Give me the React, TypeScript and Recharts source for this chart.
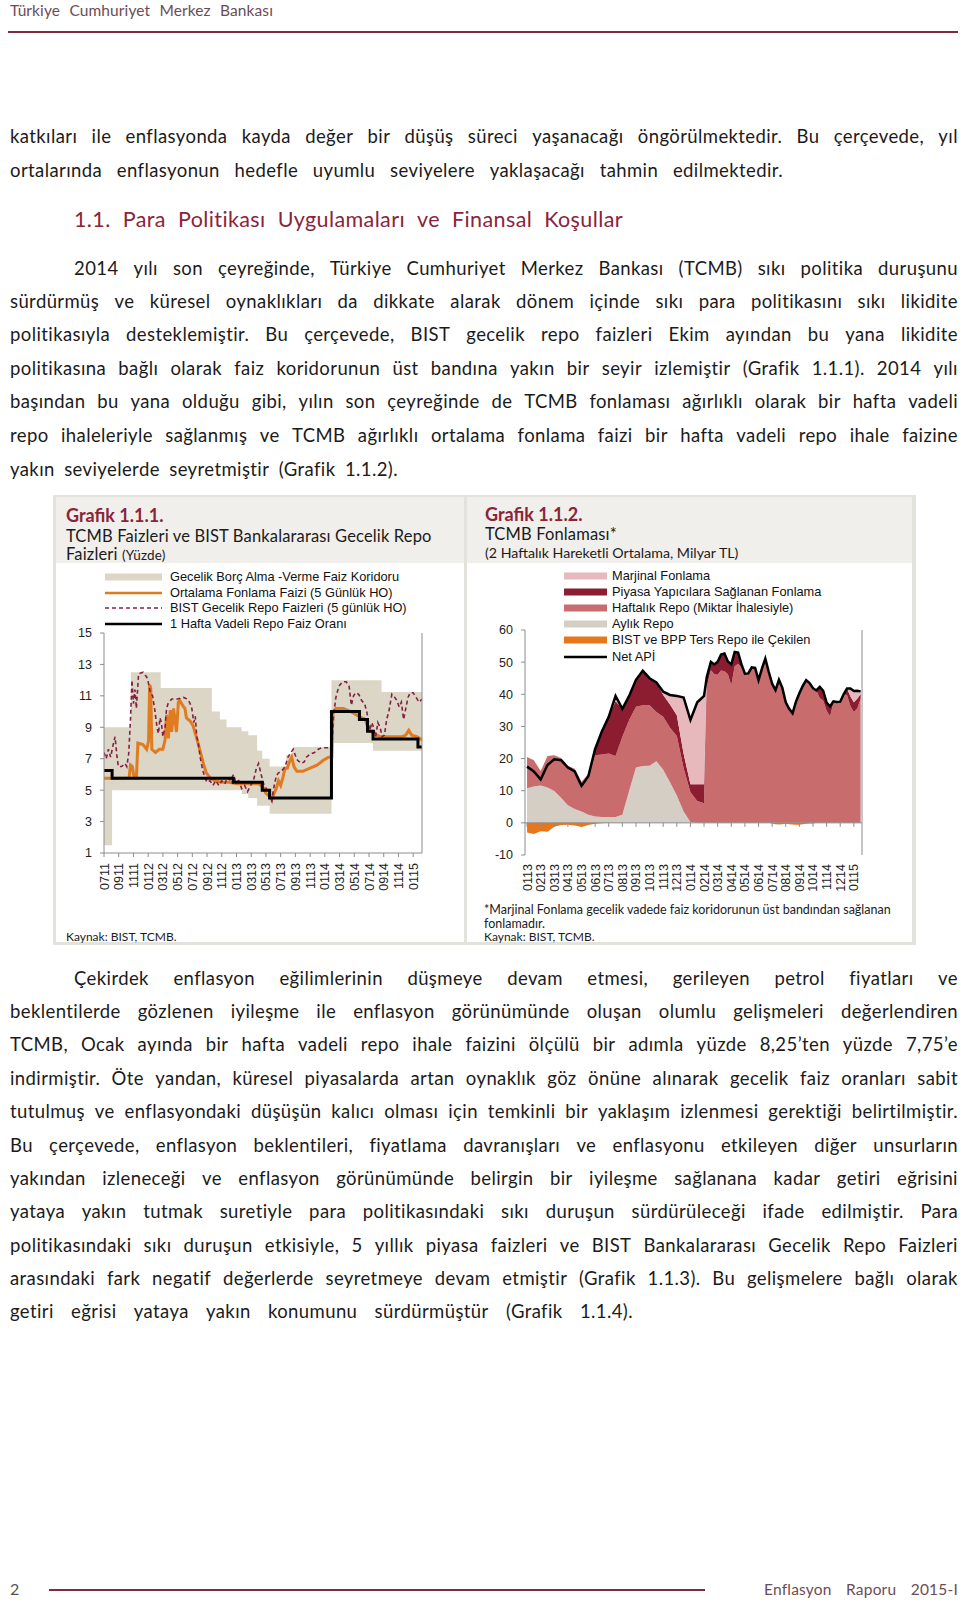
import React from "react";
import { Area, ComposedChart, Line, ReferenceLine, XAxis, YAxis } from "recharts";

const BODY = "Lato, 'Open Sans', sans-serif";
const SANS = "'Liberation Sans', Arial, sans-serif";
const MAROON = "#8b2439";
const AXIS = "#8c8c8c";

// ---- Grafik 1.1.1 : months counted from 07/2011 ----
const c1TickLabels = [
  "0711", "0911", "1111", "0112", "0312", "0512", "0712", "0912", "1112", "0113", "0313",
  "0513", "0713", "0913", "1113", "0114", "0314", "0514", "0714", "0914", "1114", "0115",
];
const c1YTicks = [1, 3, 5, 7, 9, 11, 13, 15];

// corridor (overnight borrowing / lending), step changes
const corridorT = [0, 1.1, 3.65, 7.7, 14.65, 15.75, 16.65, 18.7, 19.6, 20.8, 21.5, 22.5, 24.75, 25.65, 30.9, 36.55, 37.7, 43.2];
const corridorLow = [1.5, 5, 5, 5, 5, 5, 5, 4.75, 4.5, 4, 4, 3.5, 3.5, 3.5, 8, 7.5, 7.5, 7.5];
const corridorHigh = [9, 9, 12.5, 11.5, 10, 9.5, 9, 8.75, 8.5, 7.5, 7, 6.5, 7.25, 7.75, 12, 12, 11.25, 11.25];

// 1 hafta vadeli repo
const policyT = [0, 1.1, 17.55, 21.5, 22.5, 30.9, 34.7, 35.8, 36.55, 42.65, 43.2];
const policyRate = [6.25, 5.75, 5.5, 5.0, 4.5, 10, 9.5, 8.75, 8.25, 7.75, 7.75];

// BIST gecelik repo (5 günlük HO)
const bistRepo: [number, number][] = [
  [0, 7.4], [0.3, 7.0], [0.6, 7.6], [0.9, 7.1], [1.2, 7.8], [1.5, 8.4], [1.75, 7.2], [1.95, 6.5],
  [2.4, 6.5], [2.85, 6.7], [3.1, 6.5], [3.35, 7.3], [3.6, 9.5], [3.8, 12.0], [4.0, 10.5], [4.2, 11.4],
  [4.4, 10.2], [4.7, 12.4], [5.3, 12.5], [5.8, 12.2], [6.0, 11.9], [6.3, 11.2], [6.6, 11.0], [6.9, 10.1],
  [7.2, 9.0], [7.4, 8.6], [7.6, 9.6], [7.8, 9.3], [8.0, 8.4], [8.3, 9.0], [8.5, 10.2], [8.7, 10.5],
  [9.2, 10.8], [10.0, 10.8], [10.8, 10.9], [11.3, 10.8], [11.6, 10.6], [11.9, 10.3], [12.2, 9.3],
  [12.4, 9.7], [12.6, 8.4], [12.8, 8.0], [13.1, 7.0], [13.4, 6.3], [13.7, 5.8], [14.0, 5.5], [14.4, 5.6],
  [14.8, 5.3], [15.2, 5.6], [15.6, 5.3], [16.0, 5.6], [16.4, 5.4], [16.8, 5.8], [17.2, 5.6], [17.6, 6.0],
  [17.9, 5.5], [18.3, 5.6], [18.7, 5.1], [19.1, 5.3], [19.5, 4.9], [19.8, 5.2], [20.3, 5.6], [20.7, 6.4],
  [21.0, 6.7], [21.3, 6.1], [21.6, 5.5], [21.9, 5.2], [22.2, 5.0], [22.5, 4.6], [22.8, 4.3], [23.0, 5.0],
  [23.4, 5.9], [23.7, 6.1], [24.1, 6.2], [24.6, 6.5], [25.0, 7.1], [25.4, 7.4], [25.7, 7.6], [26.0, 7.2],
  [26.3, 6.9], [26.8, 6.7], [27.2, 6.8], [27.5, 7.1], [28.0, 7.3], [28.6, 7.4], [29.1, 7.6], [29.6, 7.7],
  [30.3, 7.7], [30.95, 7.7], [31.2, 9.8], [31.5, 10.9], [31.9, 11.6], [32.4, 11.9], [32.9, 11.9],
  [33.3, 11.6], [33.6, 10.4], [33.9, 11.0], [34.2, 11.2], [34.6, 11.1], [35.0, 10.7], [35.4, 10.5],
  [35.7, 10.0], [36.1, 8.8], [36.4, 9.3], [36.6, 9.0], [36.9, 8.4], [37.2, 9.3], [37.5, 9.0], [37.8, 8.4],
  [38.1, 8.5], [38.4, 9.5], [38.7, 10.0], [39.1, 11.1], [39.5, 10.9], [39.8, 10.7], [40.1, 10.3],
  [40.4, 10.6], [40.7, 9.5], [41.0, 10.2], [41.3, 10.9], [41.6, 11.2], [42.0, 11.2], [42.4, 10.9],
  [42.8, 10.6], [43.2, 10.8],
];

// Ortalama fonlama faizi (5 günlük HO)
const fundingRate: [number, number][] = [
  [0, 5.75], [3.4, 5.75], [3.6, 6.6], [3.85, 6.5], [4.1, 5.75], [4.4, 5.75], [4.6, 8.0], [5.3, 7.9],
  [5.8, 7.6], [6.05, 8.1], [6.2, 11.7], [6.35, 11.5], [6.5, 7.6], [7.0, 7.4], [7.5, 7.6], [8.0, 7.6],
  [8.3, 8.2], [8.5, 9.8], [8.75, 8.3], [9.0, 10.1], [9.2, 8.7], [9.45, 10.2], [9.85, 8.7], [10.1, 10.6],
  [10.3, 10.7], [10.8, 10.3], [11.0, 10.2], [11.2, 9.6], [11.7, 9.4], [12.1, 9.1], [12.6, 8.3],
  [13.0, 7.6], [13.5, 6.7], [13.9, 6.1], [14.4, 5.8], [15.0, 5.6], [16.0, 5.5], [17.0, 5.5], [18.0, 5.4],
  [19.0, 5.4], [20.0, 5.4], [21.0, 5.4], [21.6, 5.2], [22.0, 4.8], [22.5, 4.6], [22.8, 4.4], [23.1, 4.8],
  [23.4, 5.1], [23.7, 5.6], [24.0, 5.3], [24.3, 5.8], [24.6, 6.4], [24.9, 6.4], [25.2, 6.8], [25.5, 7.1],
  [25.8, 6.5], [26.2, 6.2], [27.0, 6.2], [28.0, 6.4], [29.0, 6.6], [29.8, 6.9], [30.5, 7.1], [30.95, 7.1],
  [31.1, 10.0], [31.5, 10.2], [32.5, 10.2], [33.5, 10.0], [34.6, 9.7], [35.5, 9.5], [35.9, 8.9],
  [36.6, 8.6], [37.5, 8.4], [38.5, 8.4], [39.5, 8.4], [40.5, 8.4], [41.0, 8.5], [41.4, 8.8], [41.8, 8.5],
  [42.5, 8.4], [43.2, 8.2],
];

// ---- Grafik 1.1.2 : months counted from 01/2013 ----
const c2TickLabels = [
  "0113", "0213", "0313", "0413", "0513", "0613", "0713", "0813", "0913", "1013", "1113", "1213",
  "0114", "0214", "0314", "0414", "0514", "0614", "0714", "0814", "0914", "1014", "1114", "1214", "0115",
];
const c2YTicks = [-10, 0, 10, 20, 30, 40, 50, 60];
const c2Months = [
  0, 0.5, 1, 1.5, 2, 2.5, 3, 3.5, 4, 4.5, 5, 5.5, 6, 6.5, 7, 7.5, 8, 8.5, 9, 9.5, 10, 10.5, 11, 11.5,
  12, 12.5, 13, 13.2,
  13.5, 13.75, 14, 14.25, 14.5, 14.75, 15, 15.25, 15.5, 15.75, 16, 16.25, 16.5, 16.75, 17, 17.25, 17.5,
  17.75, 18, 18.25, 18.5, 18.75, 19, 19.25, 19.5, 19.75, 20, 20.25, 20.5, 20.75, 21, 21.25, 21.5, 21.75,
  22, 22.25, 22.5, 22.75, 23, 23.25, 23.5, 23.75, 24, 24.25, 24.5,
];
const aylikRepo = [
  10.8, 11.3, 11.6, 11.0, 9.9, 7.8, 5.5, 4.3, 3.5, 2.5, 2.0, 1.8, 1.8, 1.8, 2.5, 10.0, 17.2, 17.7, 17.8,
  19.2, 16.5, 12.6, 8.5, 3.5, 0.3, 0, 0, 0,
  0, 0, 0, 0, 0, 0, 0, 0, 0, 0, 0, 0, 0, 0, 0, 0, 0, 0, 0, 0, 0, 0, 0, 0, 0, 0, 0, 0, 0, 0, 0, 0, 0, 0,
  0, 0, 0, 0, 0, 0, 0, 0, 0, 0, 0,
];
const haftalikRepo = [
  9.7, 8.2, 4.5, 9.8, 11.1, 12.4, 12.3, 12.5, 9.3, 12.7, 19.0, 19.5, 19.8, 19.0, 24.3, 22.0, 18.9, 18.9,
  18.8, 15.3, 16.5, 17.0, 18.5, 13.5, 9.2, 6.8, 6.1, 42.5,
  47.5, 46.3, 46.1, 47.4, 47.2, 46.2, 42.8, 48.7, 49.5, 48.3, 46.4, 46.5, 48.4, 48.2, 44.4, 48.0, 51.1,
  47.0, 43.5, 41.7, 45.0, 42.4, 37.8, 35.9, 34.6, 38.3, 40.9, 43.0, 44.7, 43.7, 42.1, 41.2, 38.8, 38.1,
  34.9, 33.2, 37.3, 37.6, 37.7, 40.0, 39.8, 36.3, 34.5, 35.6, 38.6,
];
const piyasaYapici = [
  0, 0, 0, 0, 0, 0, 0, 0, 0, 0, 2.3, 7.3, 11.4, 17.0, 8.7, 7.5, 8.4, 10.7, 8.4, 9.2, 6.8, 7.2, 6.5, 4.5,
  2.5, 5.2, 5.9, 2.9,
  2.6, 3.0, 4.0, 5.0, 5.5, 4.0, 6.5, 4.5, 3.5, 1.0, 0, 0, 0, 0, 0, 0, 0, 0, 0, 0, 0, 0, 0, 0, 0, 0, 0, 0,
  0, 0, 0, 0, 3.5, 3.0, 2.5, 3.0, 0.5, 0, 0, 0, 2.0, 3.0, 3.0, 3.0, 1.5,
];
const marjinal = [
  0, 0, 0, 0, 0, 0, 0, 0, 0, 0, 0, 0, 0, 1.7, 0, 0, 0, 0, 0, 0, 1.0, 3.0, 6.0, 17.5, 20.0, 25.5, 27.5, 0,
  0, 0, 0, 0, 0, 0, 0, 0, 0, 0, 0, 0, 0, 0, 0, 0, 0, 0, 0, 0, 0, 0, 0, 0, 0, 0, 0, 0, 0, 0, 0, 0, 0, 0,
  0, 0, 0, 0, 0, 0, 0, 2.5, 3.5, 2.5, 0.8,
];
const bistTersRepo = [
  -3.0, -3.5, -2.6, -2.8, -1.2, -0.7, -0.6, -0.8, -1.3, -0.7, -0.3, -0.1, 0, 0, 0, 0, 0, 0, 0, 0, 0, 0,
  0, 0, 0, 0, 0, 0,
  0, 0, 0, 0, 0, 0, 0, 0, 0, 0, 0, 0, 0, 0, 0, 0, 0, 0, -0.2, -0.4, -0.5, -0.4, -0.3, -0.4, -0.5, -0.6,
  -0.6, -0.4, -0.3, -0.2, -0.2, 0, 0, 0, 0, 0, 0, 0, 0, 0, 0, 0, 0, 0, 0,
];
const netApi = [
  17.5, 16.0, 13.5, 18.0, 19.8, 19.5, 17.2, 16.0, 11.5, 14.5, 23.0, 28.5, 33.0, 39.5, 35.5, 39.5, 44.5,
  47.3, 45.0, 43.7, 40.8, 39.8, 39.5, 39.0, 32.0, 37.5, 39.5, 45.4,
  50.1, 49.3, 50.1, 52.4, 52.7, 50.2, 49.3, 53.2, 53.0, 49.3, 46.4, 46.5, 48.4, 48.2, 44.4, 48.0, 51.1,
  47.0, 43.3, 41.3, 44.5, 42.0, 37.5, 35.5, 34.1, 37.7, 40.3, 42.6, 44.4, 43.5, 41.9, 41.2, 42.3, 41.1,
  37.4, 36.2, 37.8, 37.6, 37.7, 40.0, 41.8, 41.8, 41.0, 41.1, 40.9,
];

// one table for chart 1, rows keyed by month; series missing a value get connectNulls
function mergeRows(parts: Array<[string, Array<[number, unknown]>]>) {
  const rows = new Map<number, Record<string, unknown>>();
  parts.forEach(([key, pts]) =>
    pts.forEach(([t, v]) => {
      const row = rows.get(t) ?? { t };
      row[key] = v;
      rows.set(t, row);
    })
  );
  return Array.from(rows.values()).sort((a, b) => (a.t as number) - (b.t as number));
}

const chart1Data = mergeRows([
  ["band", corridorT.map((t, i) => [t, [corridorLow[i], corridorHigh[i]]] as [number, unknown])],
  ["policy", policyT.map((t, i) => [t, policyRate[i]] as [number, unknown])],
  ["bist", bistRepo],
  ["fund", fundingRate],
]);

const chart2Data = c2Months.map((t, i) => ({
  t,
  aylik: aylikRepo[i],
  haftalik: haftalikRepo[i],
  piyasa: piyasaYapici[i],
  marjinal: marjinal[i],
  ters: bistTersRepo[i],
  net: netApi[i],
}));

const yTick = { fontSize: 12.5, fill: "#222", fontFamily: SANS };

function MonthTick(props: any) {
  const { x, y, payload, labels, step, zeroOffset } = props;
  const label = labels[Math.round(payload.value / step)];
  return (
    <g transform={`translate(${x},${y})`}>
      {zeroOffset != null && (
        <line x1={0} x2={0} y1={-zeroOffset} y2={-zeroOffset + 4} stroke={AXIS} />
      )}
      <text transform="rotate(-90)" x={-3} y={4.5} textAnchor="end" fontSize={12.5} fill="#222" fontFamily={SANS}>
        {label}
      </text>
    </g>
  );
}

function Chart1() {
  return (
    <ComposedChart width={400} height={310} data={chart1Data} margin={{ top: 33, right: 0, left: 0, bottom: 12 }}>
      <XAxis
        dataKey="t"
        type="number"
        domain={[0, 43.2]}
        allowDataOverflow
        ticks={c1TickLabels.map((_, i) => i * 2)}
        interval={0}
        height={45}
        tickSize={4}
        tickMargin={3}
        axisLine={{ stroke: AXIS }}
        tickLine={{ stroke: AXIS }}
        tick={(p: any) => <MonthTick {...p} labels={c1TickLabels} step={2} />}
      />
      <YAxis yAxisId="l" domain={[1, 15]} ticks={c1YTicks} interval={0} width={44} tickSize={4} tickMargin={8}
        axisLine={{ stroke: AXIS }} tickLine={{ stroke: AXIS }} tick={yTick} />
      <YAxis yAxisId="r" orientation="right" domain={[1, 15]} ticks={c1YTicks} interval={0} width={38} tickSize={4} tickMargin={6}
        axisLine={{ stroke: AXIS }} tickLine={{ stroke: AXIS }} tick={yTick} />
      <Area yAxisId="l" dataKey="band" type="stepAfter" fill="#dcd6c6" fillOpacity={1} stroke="none"
        connectNulls isAnimationActive={false} />
      <Line yAxisId="l" dataKey="fund" type="linear" stroke="#e07b20" strokeWidth={3} dot={false}
        connectNulls isAnimationActive={false} />
      <Line yAxisId="l" dataKey="bist" type="linear" stroke="#842042" strokeWidth={1.6} strokeDasharray="4 3"
        dot={false} connectNulls isAnimationActive={false} />
      <Line yAxisId="l" dataKey="policy" type="stepAfter" stroke="#000" strokeWidth={3} dot={false}
        connectNulls isAnimationActive={false} />
    </ComposedChart>
  );
}

function Chart2() {
  return (
    <ComposedChart width={420} height={312} data={chart2Data} margin={{ top: 30, right: 0, left: 0, bottom: 12 }}>
      <XAxis
        dataKey="t"
        type="number"
        domain={[-0.15, 24.6]}
        allowDataOverflow
        ticks={c2TickLabels.map((_, i) => i)}
        interval={0}
        height={45}
        tickSize={0}
        tickMargin={6}
        axisLine={false}
        tickLine={false}
        tick={(p: any) => <MonthTick {...p} labels={c2TickLabels} step={1} zeroOffset={6 + 225 * (10 / 70)} />}
      />
      <YAxis yAxisId="l" domain={[-10, 60]} ticks={c2YTicks} interval={0} width={45} tickSize={4} tickMargin={8}
        axisLine={{ stroke: AXIS }} tickLine={{ stroke: AXIS }} tick={yTick} />
      <YAxis yAxisId="r" orientation="right" domain={[-10, 60]} ticks={c2YTicks} interval={0} width={38} tickSize={4} tickMargin={6}
        axisLine={{ stroke: AXIS }} tickLine={{ stroke: AXIS }} tick={yTick} />
      <Area yAxisId="l" dataKey="aylik" stackId="f" type="linear" fill="#d5cec4" fillOpacity={1} stroke="none" isAnimationActive={false} />
      <Area yAxisId="l" dataKey="haftalik" stackId="f" type="linear" fill="#c96c6e" fillOpacity={1} stroke="none" isAnimationActive={false} />
      <Area yAxisId="l" dataKey="piyasa" stackId="f" type="linear" fill="#8c1c30" fillOpacity={1} stroke="none" isAnimationActive={false} />
      <Area yAxisId="l" dataKey="marjinal" stackId="f" type="linear" fill="#e7b9bc" fillOpacity={1} stroke="none" isAnimationActive={false} />
      <Area yAxisId="l" dataKey="ters" type="linear" baseValue={0} fill="#e8771c" fillOpacity={1} stroke="none" isAnimationActive={false} />
      <ReferenceLine yAxisId="l" y={0} stroke={AXIS} />
      <Line yAxisId="l" dataKey="net" type="linear" stroke="#000" strokeWidth={2.5} dot={false} isAnimationActive={false} />
    </ComposedChart>
  );
}

// ---- page text ----
const PAGE_LINES = [
  { x: 10, y: 136, w: 948, t: "katkıları ile enflasyonda kayda değer bir düşüş süreci yaşanacağı öngörülmektedir. Bu çerçevede, yıl" },
  { x: 10, y: 169.5, w: 773, t: "ortalarında enflasyonun hedefle uyumlu seviyelere yaklaşacağı tahmin edilmektedir." },
  { x: 74, y: 267.5, w: 884, t: "2014 yılı son çeyreğinde, Türkiye Cumhuriyet Merkez Bankası (TCMB) sıkı politika duruşunu" },
  { x: 10, y: 301, w: 948, t: "sürdürmüş ve küresel oynaklıkları da dikkate alarak dönem içinde sıkı para politikasını sıkı likidite" },
  { x: 10, y: 334, w: 948, t: "politikasıyla desteklemiştir. Bu çerçevede, BIST gecelik repo faizleri Ekim ayından bu yana likidite" },
  { x: 10, y: 367.5, w: 948, t: "politikasına bağlı olarak faiz koridorunun üst bandına yakın bir seyir izlemiştir (Grafik 1.1.1). 2014 yılı" },
  { x: 10, y: 401, w: 948, t: "başından bu yana olduğu gibi, yılın son çeyreğinde de TCMB fonlaması ağırlıklı olarak bir hafta vadeli" },
  { x: 10, y: 435, w: 948, t: "repo ihaleleriyle sağlanmış ve TCMB ağırlıklı ortalama fonlama faizi bir hafta vadeli repo ihale faizine" },
  { x: 10, y: 469, w: 388, t: "yakın seviyelerde seyretmiştir (Grafik 1.1.2)." },
  { x: 74, y: 977.5, w: 884, t: "Çekirdek enflasyon eğilimlerinin düşmeye devam etmesi, gerileyen petrol fiyatları ve" },
  { x: 10, y: 1011, w: 948, t: "beklentilerde gözlenen iyileşme ile enflasyon görünümünde oluşan olumlu gelişmeleri değerlendiren" },
  { x: 10, y: 1044, w: 948, t: "TCMB, Ocak ayında bir hafta vadeli repo ihale faizini ölçülü bir adımla yüzde 8,25’ten yüzde 7,75’e" },
  { x: 10, y: 1077.5, w: 948, t: "indirmiştir. Öte yandan, küresel piyasalarda artan oynaklık göz önüne alınarak gecelik faiz oranları sabit" },
  { x: 10, y: 1111, w: 948, t: "tutulmuş ve enflasyondaki düşüşün kalıcı olması için temkinli bir yaklaşım izlenmesi gerektiği belirtilmiştir." },
  { x: 10, y: 1145, w: 948, t: "Bu çerçevede, enflasyon beklentileri, fiyatlama davranışları ve enflasyonu etkileyen diğer unsurların" },
  { x: 10, y: 1177.5, w: 948, t: "yakından izleneceği ve enflasyon görünümünde belirgin bir iyileşme sağlanana kadar getiri eğrisini" },
  { x: 10, y: 1211, w: 948, t: "yataya yakın tutmak suretiyle para politikasındaki sıkı duruşun sürdürüleceği ifade edilmiştir. Para" },
  { x: 10, y: 1245, w: 948, t: "politikasındaki sıkı duruşun etkisiyle, 5 yıllık piyasa faizleri ve BIST Bankalararası Gecelik Repo Faizleri" },
  { x: 10, y: 1277.5, w: 948, t: "arasındaki fark negatif değerlerde seyretmeye devam etmiştir (Grafik 1.1.3). Bu gelişmelere bağlı olarak" },
  { x: 10, y: 1311, w: 623, t: "getiri eğrisi yataya yakın konumunu sürdürmüştür (Grafik 1.1.4)." },
];

function JustLine({ x, y, w, t, size = 18.5, spacing = 0.4, color = "#1b1b1b" }: { x: number; y: number; w: number; t: string; size?: number; spacing?: number; color?: string }) {
  return (
    <div style={{ position: "absolute", left: x, top: y - 13, width: w, height: 26, lineHeight: "26px", fontSize: size, letterSpacing: spacing, color, display: "flex", justifyContent: "space-between", whiteSpace: "nowrap" }}>
      {t.split(" ").filter(Boolean).map((word, i) => <span key={i}>{word}</span>)}
    </div>
  );
}

function Label({ x, y, size, color = "#1b1b1b", bold = false, font = BODY, spacing = 0, children }: { x: number; y: number; size: number; color?: string; bold?: boolean; font?: string; spacing?: number; children: React.ReactNode }) {
  return (
    <div style={{ position: "absolute", left: x, top: y - size * 0.7, lineHeight: `${size * 1.4}px`, fontSize: size, color, fontWeight: bold ? 700 : 400, fontFamily: font, letterSpacing: spacing, whiteSpace: "nowrap" }}>
      {children}
    </div>
  );
}

function LegendItem({ x, y, w, textX, kind, color, label }: { x: number; y: number; w: number; textX: number; kind: string; color: string; label: string }) {
  return (
    <>
      <svg style={{ position: "absolute", left: x, top: y - 5 }} width={w} height={10}>
        {kind === "bar" && <rect x={0} y={1.5} width={w} height={7} fill={color} />}
        {kind === "line" && <line x1={0} x2={w} y1={5} y2={5} stroke={color} strokeWidth={2.5} />}
        {kind === "dash" && <line x1={0} x2={w} y1={5} y2={5} stroke={color} strokeWidth={1.5} strokeDasharray="4 3" />}
      </svg>
      <Label x={textX} y={y} size={12.8} font={SANS} color="#111">{label}</Label>
    </>
  );
}

export default function App() {
  return (
    <div style={{ position: "absolute", left: 0, top: 0, width: 960, height: 1602, background: "#fff", overflow: "hidden", fontFamily: BODY, color: "#1b1b1b" }}>
      {/* running header */}
      <JustLine x={10} y={10} w={263} size={15.5} spacing={0.1} color="#6d4c55" t="Türkiye Cumhuriyet Merkez Bankası" />
      <div style={{ position: "absolute", left: 8, top: 31, width: 950, height: 2, background: "#7b2d3d" }} />

      {PAGE_LINES.slice(0, 2).map((l, i) => <JustLine key={`a${i}`} {...l} />)}
      <JustLine x={74} y={218.5} w={549} size={21.5} spacing={0.4} color={MAROON} t="1.1. Para Politikası Uygulamaları ve Finansal Koşullar" />
      {PAGE_LINES.slice(2).map((l, i) => <JustLine key={`b${i}`} {...l} />)}

      {/* chart frame */}
      <div style={{ position: "absolute", left: 53, top: 495, width: 863, height: 450, background: "#e4e2dd" }} />
      <div style={{ position: "absolute", left: 56, top: 497, width: 408, height: 445, background: "#fff" }} />
      <div style={{ position: "absolute", left: 467, top: 497, width: 445, height: 445, background: "#fff" }} />
      <div style={{ position: "absolute", left: 56, top: 497, width: 408, height: 66, background: "#f1efeb" }} />
      <div style={{ position: "absolute", left: 467, top: 497, width: 445, height: 66, background: "#f1efeb" }} />

      <Label x={66} y={516} size={18} bold color={MAROON}>Grafik 1.1.1.</Label>
      <Label x={66} y={537} size={16.5} spacing={0.15}>TCMB Faizleri ve BIST Bankalararası Gecelik Repo</Label>
      <Label x={66} y={555} size={16.5} spacing={0.15}>Faizleri <span style={{ fontSize: 13.5 }}>(Yüzde)</span></Label>

      <Label x={485} y={515} size={18} bold color={MAROON}>Grafik 1.1.2.</Label>
      <Label x={485} y={535} size={16.5} spacing={0.15}>TCMB Fonlaması*</Label>
      <Label x={485} y={553} size={14.2}>(2 Haftalık Hareketli Ortalama, Milyar TL)</Label>

      <div style={{ position: "absolute", left: 60, top: 600 }}><Chart1 /></div>
      <div style={{ position: "absolute", left: 480, top: 600 }}><Chart2 /></div>

      <LegendItem x={105} y={577} w={57} textX={170} kind="bar" color="#dcd6c6" label="Gecelik Borç Alma -Verme Faiz Koridoru" />
      <LegendItem x={105} y={593} w={57} textX={170} kind="line" color="#e07b20" label="Ortalama Fonlama Faizi (5 Günlük HO)" />
      <LegendItem x={105} y={608} w={57} textX={170} kind="dash" color="#842042" label="BIST Gecelik Repo Faizleri (5 günlük HO)" />
      <LegendItem x={105} y={624} w={57} textX={170} kind="line" color="#000" label="1 Hafta Vadeli Repo Faiz Oranı" />

      <LegendItem x={564} y={576} w={43} textX={612} kind="bar" color="#e7b9bc" label="Marjinal Fonlama" />
      <LegendItem x={564} y={592} w={43} textX={612} kind="bar" color="#8c1c30" label="Piyasa Yapıcılara Sağlanan Fonlama" />
      <LegendItem x={564} y={608} w={43} textX={612} kind="bar" color="#c96c6e" label="Haftalık Repo (Miktar İhalesiyle)" />
      <LegendItem x={564} y={624} w={43} textX={612} kind="bar" color="#d5cec4" label="Aylık Repo" />
      <LegendItem x={564} y={640} w={43} textX={612} kind="bar" color="#e8771c" label="BIST ve BPP Ters Repo ile Çekilen" />
      <LegendItem x={564} y={657} w={43} textX={612} kind="line" color="#000" label="Net APİ" />

      <Label x={66} y={937} size={12}>Kaynak: BIST, TCMB.</Label>
      <Label x={484} y={910} size={12.5}>*Marjinal Fonlama gecelik vadede faiz koridorunun üst bandından sağlanan</Label>
      <Label x={484} y={923.5} size={12.5}>fonlamadır.</Label>
      <Label x={484} y={937} size={12}>Kaynak: BIST, TCMB.</Label>

      {/* footer */}
      <Label x={10} y={1589} size={16} color="#555">2</Label>
      <div style={{ position: "absolute", left: 49, top: 1589, width: 656, height: 2, background: "#7b2d3d" }} />
      <JustLine x={764} y={1589} w={194} size={15.5} spacing={0.2} color="#6d4c55" t="Enflasyon Raporu  2015-I" />
    </div>
  );
}
